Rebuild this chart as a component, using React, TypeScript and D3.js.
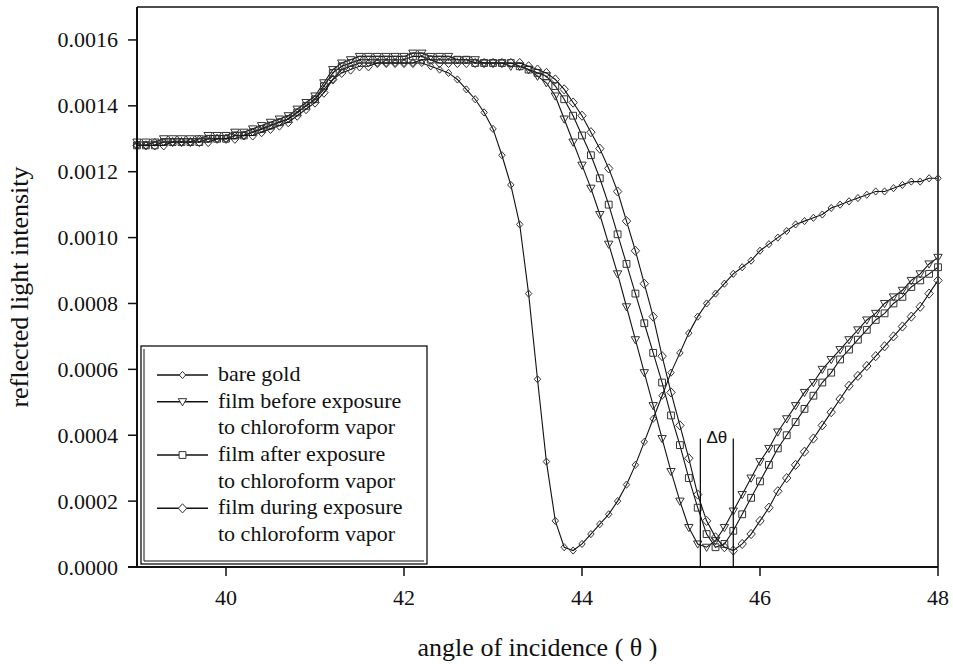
import React from "react";
import * as d3 from "d3";

// ---------------- data ----------------
const angles = [
  39.0, 39.1, 39.2, 39.3, 39.4, 39.5, 39.6, 39.7, 39.8, 39.9,
  40.0, 40.1, 40.2, 40.3, 40.4, 40.5, 40.6, 40.7, 40.8, 40.9,
  41.0, 41.1, 41.2, 41.3, 41.4, 41.5, 41.6, 41.7, 41.8, 41.9,
  42.0, 42.1, 42.2, 42.3, 42.4, 42.5, 42.6, 42.7, 42.8, 42.9,
  43.0, 43.1, 43.2, 43.3, 43.4, 43.5, 43.6, 43.7, 43.8, 43.9,
  44.0, 44.1, 44.2, 44.3, 44.4, 44.5, 44.6, 44.7, 44.8, 44.9,
  45.0, 45.1, 45.2, 45.3, 45.4, 45.5, 45.6, 45.7, 45.8, 45.9,
  46.0, 46.1, 46.2, 46.3, 46.4, 46.5, 46.6, 46.7, 46.8, 46.9,
  47.0, 47.1, 47.2, 47.3, 47.4, 47.5, 47.6, 47.7, 47.8, 47.9,
  48.0,
];

const bareGold = [
  0.00128, 0.00128, 0.00129, 0.00129, 0.00129, 0.00129, 0.00129, 0.0013, 0.0013, 0.0013,
  0.0013, 0.00131, 0.00131, 0.00132, 0.00133, 0.00134, 0.00135, 0.00136, 0.00138, 0.0014,
  0.00142, 0.00145, 0.00148, 0.00151, 0.00152, 0.00153, 0.00153, 0.00153, 0.00153, 0.00153,
  0.00153, 0.00153, 0.00153, 0.00152, 0.00151, 0.0015, 0.00148, 0.00145, 0.00142, 0.00138,
  0.00133, 0.00125, 0.00116, 0.00104, 0.00083, 0.00057, 0.00032, 0.00014, 0.00006, 0.00005,
  0.00007, 0.0001, 0.00013, 0.00016, 0.0002, 0.00025, 0.00031, 0.00038, 0.00045, 0.00052,
  0.00059, 0.00065, 0.00071, 0.00076, 0.0008, 0.00083, 0.00086, 0.00089, 0.00091, 0.00093,
  0.00096, 0.00098, 0.001, 0.00102, 0.00104, 0.00105, 0.00106, 0.00107, 0.00109, 0.0011,
  0.00111, 0.00112, 0.00113, 0.00114, 0.00114, 0.00115, 0.00116, 0.00117, 0.00117, 0.00118,
  0.00118,
];

const filmBefore = [
  0.00129, 0.00129, 0.00129, 0.0013, 0.0013, 0.0013, 0.0013, 0.0013, 0.00131, 0.00131,
  0.00131, 0.00132, 0.00132, 0.00133, 0.00134, 0.00135, 0.00136, 0.00137, 0.00139, 0.00141,
  0.00143, 0.00147, 0.00151, 0.00153, 0.00154, 0.00155, 0.00155, 0.00155, 0.00155, 0.00155,
  0.00155, 0.00156, 0.00156, 0.00155, 0.00155, 0.00155, 0.00154, 0.00154, 0.00154, 0.00153,
  0.00153, 0.00153, 0.00152, 0.00152, 0.00151, 0.00149, 0.00147, 0.00143, 0.00136, 0.00129,
  0.00122, 0.00115, 0.00107, 0.00098, 0.00089, 0.00079, 0.00069, 0.00059, 0.00049, 0.00039,
  0.00029, 0.0002, 0.00012, 0.00007, 0.00006, 0.00008, 0.00012, 0.00017, 0.00022, 0.00027,
  0.00032, 0.00036, 0.00041, 0.00045, 0.00049, 0.00053, 0.00056, 0.0006, 0.00063, 0.00066,
  0.00069, 0.00072, 0.00075, 0.00077, 0.0008, 0.00082, 0.00084, 0.00087, 0.00089, 0.00092,
  0.00094,
];

const filmAfter = [
  0.00128, 0.00128, 0.00128, 0.00129, 0.00129, 0.00129, 0.00129, 0.00129, 0.0013, 0.0013,
  0.0013, 0.00131, 0.00131, 0.00132, 0.00133, 0.00134, 0.00135, 0.00136, 0.00138, 0.0014,
  0.00142, 0.00146, 0.0015, 0.00152, 0.00153, 0.00154, 0.00154, 0.00154, 0.00154, 0.00154,
  0.00154, 0.00155, 0.00155, 0.00154, 0.00154, 0.00154, 0.00154, 0.00154, 0.00153, 0.00153,
  0.00153, 0.00153, 0.00153, 0.00152, 0.00151, 0.0015, 0.00149, 0.00146, 0.00142, 0.00137,
  0.00131, 0.00125, 0.00118, 0.0011, 0.00101, 0.00092, 0.00083, 0.00074, 0.00065, 0.00056,
  0.00046, 0.00037, 0.00027, 0.00018, 0.0001, 0.00006, 0.00007, 0.00011, 0.00016, 0.00021,
  0.00026, 0.00031, 0.00036, 0.0004, 0.00044, 0.00048, 0.00052, 0.00056, 0.00059, 0.00063,
  0.00066, 0.00069, 0.00072, 0.00075, 0.00077, 0.0008, 0.00082, 0.00085, 0.00087, 0.00089,
  0.00091,
];

const filmDuring = [
  0.00128, 0.00128, 0.00128, 0.00128, 0.00129, 0.00129, 0.00129, 0.00129, 0.00129, 0.0013,
  0.0013, 0.0013, 0.00131, 0.00131, 0.00132, 0.00133, 0.00134, 0.00135, 0.00137, 0.00139,
  0.00141, 0.00144, 0.00148, 0.0015, 0.00151, 0.00152, 0.00152, 0.00153, 0.00153, 0.00153,
  0.00153, 0.00153, 0.00154, 0.00154, 0.00153, 0.00153, 0.00153, 0.00153, 0.00153, 0.00153,
  0.00153, 0.00153, 0.00153, 0.00153, 0.00152, 0.00151, 0.0015, 0.00148, 0.00145, 0.00141,
  0.00137, 0.00132, 0.00127, 0.00121, 0.00114, 0.00105, 0.00096, 0.00086, 0.00076, 0.00064,
  0.00053, 0.00043, 0.00033, 0.00022, 0.00014, 0.00009, 0.00006, 0.00005, 0.00007, 0.0001,
  0.00014, 0.00018, 0.00023, 0.00027, 0.00031, 0.00035, 0.00039, 0.00043, 0.00047, 0.00051,
  0.00055, 0.00058, 0.00061, 0.00064, 0.00067, 0.0007, 0.00073, 0.00076, 0.00079, 0.00083,
  0.00087,
];

const seriesLabels = [
  ["bare gold"],
  ["film before exposure", "to chloroform vapor"],
  ["film after exposure", "to chloroform vapor"],
  ["film during exposure", "to chloroform vapor"],
];
const seriesMarkers = ["smallDiamond", "triangleDown", "square", "diamond"];

const xTicks = [40, 42, 44, 46, 48];
const yTicks = [0, 0.0002, 0.0004, 0.0006, 0.0008, 0.001, 0.0012, 0.0014, 0.0016];
const xDomain = [39, 48];
const yDomain = [0, 0.0017];

const deltaAngles = [45.33, 45.7];
const deltaTopValue = 0.00039;
const deltaLabel = "Δθ";

const xTitle = "angle of incidence ( θ )";
const yTitle = "reflected light intensity";

// ---------------- layout ----------------
const W = 953;
const H = 667;
const PL = 137;
const PR = 938;
const PT = 7;
const PB = 567;

const SERIF = "Liberation Serif, Times New Roman, DejaVu Serif, serif";
const SANS = "Liberation Sans, Arial, DejaVu Sans, sans-serif";

function markerPath(kind: string): string {
  switch (kind) {
    case "smallDiamond":
      return "M0,-3.6L3.2,0L0,3.6L-3.2,0Z";
    case "triangleDown":
      return "M-4.2,-3L4.2,-3L0,4.2Z";
    case "square":
      return "M-3.4,-3.4H3.4V3.4H-3.4Z";
    case "diamond":
    default:
      return "M0,-4.6L4.2,0L0,4.6L-4.2,0Z";
  }
}

export default function App() {
  const x = d3.scaleLinear().domain(xDomain).range([PL, PR]);
  const y = d3.scaleLinear().domain(yDomain).range([PB, PT]);
  const fmt = d3.format(".4f");

  const allSeries = [bareGold, filmBefore, filmAfter, filmDuring];

  const line = d3
    .line<number>()
    .x((_, i) => x(angles[i]))
    .y((d) => y(d));

  const serif = { fontFamily: SERIF };

  // legend
  const LX = 141;
  const LY = 346;
  const LW = 286;
  const LH = 218;
  const rowH = 26.67;
  const firstRow = LY + 29;
  let row = 0;
  const legendItems = seriesLabels.map((lines, si) => {
    const start = row;
    row += lines.length;
    return { lines, si, start };
  });

  return (
    <svg
      width={W}
      height={H}
      style={{ position: "absolute", left: 0, top: 0, background: "#fff", fontFamily: SERIF }}
    >
      <rect x={0} y={0} width={W} height={H} fill="#fff" />

      {/* series */}
      {allSeries.map((vals, si) => (
        <g key={si}>
          <path d={line(vals) || ""} fill="none" stroke="#111" strokeWidth={1.1} />
          {vals.map((v, i) => (
            <path
              key={i}
              d={markerPath(seriesMarkers[si])}
              transform={`translate(${x(angles[i])},${y(v)})`}
              fill="none"
              stroke="#333"
              strokeWidth={1}
            />
          ))}
        </g>
      ))}

      {/* delta theta annotation */}
      {deltaAngles.map((a, i) => (
        <line
          key={i}
          x1={x(a)}
          x2={x(a)}
          y1={y(deltaTopValue)}
          y2={y(0)}
          stroke="#111"
          strokeWidth={1.3}
        />
      ))}
      <text
        x={(x(deltaAngles[0]) + x(deltaAngles[1])) / 2}
        y={y(deltaTopValue) + 4}
        textAnchor="middle"
        fontSize={17}
        style={{ fontFamily: SANS }}
        fill="#111"
      >
        {deltaLabel}
      </text>

      {/* frame */}
      <line x1={PL} x2={PR} y1={PT} y2={PT} stroke="#111" strokeWidth={1.5} />
      <line x1={PR} x2={PR} y1={PT} y2={PB} stroke="#444" strokeWidth={2} />
      <line x1={PL} x2={PL} y1={PT} y2={PB + 1} stroke="#111" strokeWidth={2} />
      <line x1={PL - 9} x2={PR} y1={PB} y2={PB} stroke="#111" strokeWidth={2} />

      {/* y ticks */}
      {yTicks.map((t) => (
        <g key={t}>
          <line x1={PL - 9} x2={PL} y1={y(t)} y2={y(t)} stroke="#111" strokeWidth={1.5} />
          <text x={PL - 19} y={y(t) + 7.5} textAnchor="end" fontSize={22} fill="#111" style={serif}>
            {fmt(t)}
          </text>
        </g>
      ))}

      {/* x ticks */}
      {xTicks.map((t) => (
        <g key={t}>
          <line x1={x(t)} x2={x(t)} y1={PB} y2={PB + 9} stroke="#111" strokeWidth={1.5} />
          <text x={x(t)} y={605} textAnchor="middle" fontSize={22} fill="#111" style={serif}>
            {t}
          </text>
        </g>
      ))}

      {/* axis titles */}
      <text x={(PL + PR) / 2} y={656} textAnchor="middle" fontSize={26} fill="#111" style={serif}>
        {xTitle}
      </text>
      <text
        transform={`translate(28,${(PT + PB) / 2}) rotate(-90)`}
        textAnchor="middle"
        fontSize={26}
        fill="#111"
        style={serif}
      >
        {yTitle}
      </text>

      {/* legend */}
      <rect x={LX} y={LY} width={LW} height={LH} fill="#fff" stroke="#111" strokeWidth={1.3} />
      <line x1={LX + 3} x2={LX + 3} y1={LY + 3} y2={LY + LH - 3} stroke="#111" strokeWidth={1} />
      <line x1={LX + 3} x2={LX + LW - 3} y1={LY + LH - 3} y2={LY + LH - 3} stroke="#111" strokeWidth={1} />
      {legendItems.map(({ lines, si, start }) => {
        const cy = firstRow + start * rowH;
        return (
          <g key={si}>
            <line x1={157} x2={208} y1={cy} y2={cy} stroke="#111" strokeWidth={1.5} />
            <path
              d={markerPath(seriesMarkers[si])}
              transform={`translate(182.5,${cy})`}
              fill="#fff"
              stroke="#333"
              strokeWidth={1}
            />
            {lines.map((t, li) => (
              <text key={li} x={218} y={cy + li * rowH + 6} fontSize={22} fill="#111" style={serif}>
                {t}
              </text>
            ))}
          </g>
        );
      })}
    </svg>
  );
}
